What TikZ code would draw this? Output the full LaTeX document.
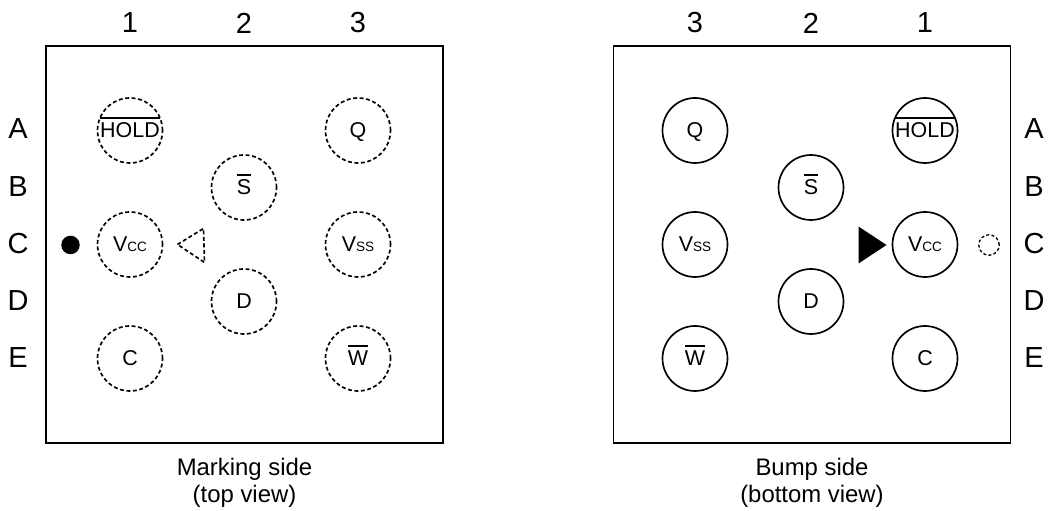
\documentclass[tikz,border=0pt]{standalone}
\usepackage{fontspec}
\setmainfont{Liberation Sans}
\usetikzlibrary{positioning}
\newcommand{\Vcc}{V{\fontsize{7.7}{9}\selectfont CC}}
\newcommand{\Vss}{V{\fontsize{7.7}{9}\selectfont SS}}
\newcommand{\barred}[1]{\sbox0{#1}\rlap{\rule[10.6pt]{\wd0}{0.75pt}}#1}
\tikzset{
	pkg/.style = {draw, line width = 1.1pt, minimum width = 7.94cm, minimum height = 7.94cm, inner sep = 0pt},
	ball/.style = {draw, circle, line width = 0.95pt, minimum size = 1.3cm, inner sep = 0pt, text height = 8.7pt, text depth = 1pt, font = \fontsize{12.2}{14}\selectfont},
	dotball/.style = {ball, dash pattern = on 2.2pt off 1.5pt},
	idx/.style = {inner sep = 0pt, font = \fontsize{16.5}{19}\selectfont},
	caption/.style = {align = center, inner sep = 0pt, font = \fontsize{13.6}{15.7}\selectfont}
}
\begin{document}
\begin{tikzpicture}
		\useasboundingbox (0cm, 0cm) rectangle (21cm, 10.22cm);

		% marking side
		\draw (4.89cm, 5.33cm) node[pkg] (mbox) {}
		(2.60cm, 7.61cm) node[dotball] (mA1) {\barred{HOLD}}
		(7.16cm, 7.61cm) node[dotball] (mA3) {Q}
		(4.88cm, 6.47cm) node[dotball] (mB2) {\barred{S}}
		(2.60cm, 5.33cm) node[dotball] (mC1) {\Vcc}
		(7.16cm, 5.33cm) node[dotball] (mC3) {\Vss}
		(4.88cm, 4.19cm) node[dotball] (mD2) {D}
		(2.60cm, 3.05cm) node[dotball] (mE1) {C}
		(7.16cm, 3.05cm) node[dotball] (mE3) {\barred{W}}
		(1.41cm, 5.32cm) node[circle, fill, minimum size = 0.37cm, inner sep = 0pt] (mdot) {};
		\draw[line width = 0.95pt, dash pattern = on 2.2pt off 1.5pt] (3.55cm, 5.33cm) -- (4.07cm, 5.65cm) -- (4.09cm, 4.97cm) -- cycle;

		% bump side
		\draw (16.24cm, 5.33cm) node[pkg] (bbox) {}
		(13.90cm, 7.61cm) node[ball] (bA3) {Q}
		(18.50cm, 7.61cm) node[ball] (bA1) {\barred{HOLD}}
		(16.22cm, 6.47cm) node[ball] (bB2) {\barred{S}}
		(13.90cm, 5.33cm) node[ball] (bC3) {\Vss}
		(18.50cm, 5.33cm) node[ball] (bC1) {\Vcc}
		(16.22cm, 4.19cm) node[ball] (bD2) {D}
		(13.90cm, 3.05cm) node[ball] (bE3) {\barred{W}}
		(18.50cm, 3.05cm) node[ball] (bE1) {C}
		(19.78cm, 5.32cm) node[circle, draw, line width = 0.75pt, dash pattern = on 1.7pt off 1.3pt, minimum size = 0.41cm, inner sep = 0pt] (bdot) {};
		\fill (17.17cm, 5.69cm) -- (17.73cm, 5.32cm) -- (17.17cm, 4.95cm) -- cycle;

		% column numbers
		\draw (2.60cm, 9.76cm) node[idx] (mn1) {1}
		(4.88cm, 9.76cm) node[idx] (mn2) {2}
		(7.16cm, 9.76cm) node[idx] (mn3) {3}
		(13.90cm, 9.76cm) node[idx] (bn3) {3}
		(16.22cm, 9.76cm) node[idx] (bn2) {2}
		(18.50cm, 9.76cm) node[idx] (bn1) {1};

		% row letters
		\draw (0.36cm, 7.64cm) node[idx] (mlA) {A}
		(0.36cm, 6.48cm) node[idx] (mlB) {B}
		(0.36cm, 5.34cm) node[idx] (mlC) {C}
		(0.36cm, 4.20cm) node[idx] (mlD) {D}
		(0.36cm, 3.06cm) node[idx] (mlE) {E}
		(20.68cm, 7.64cm) node[idx] (blA) {A}
		(20.68cm, 6.48cm) node[idx] (blB) {B}
		(20.68cm, 5.34cm) node[idx] (blC) {C}
		(20.68cm, 4.20cm) node[idx] (blD) {D}
		(20.68cm, 3.06cm) node[idx] (blE) {E};

		\draw (4.89cm, 0.56cm) node[caption] (mcap) {Marking side\\(top view)}
		(16.24cm, 0.56cm) node[caption] (bcap) {Bump side\\(bottom view)};
	\end{tikzpicture}
\end{document}
